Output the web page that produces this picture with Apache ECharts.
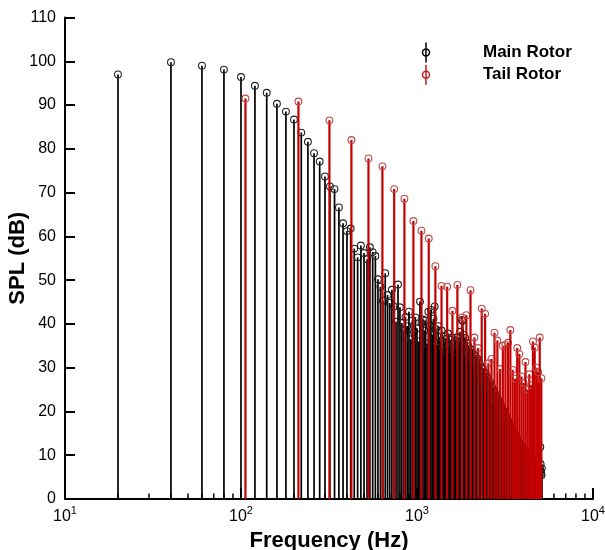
<!DOCTYPE html>
<html>
<head>
<meta charset="utf-8">
<script src="https://cdn.jsdelivr.net/npm/echarts@6/dist/echarts.min.js"></script>
<style>html,body{margin:0;padding:0;background:#fff}#c{width:605px;height:550px}</style>
</head>
<body>
<div id="c"></div>
<script>
// Main rotor harmonics: fundamental 20 Hz, SPL (dB) of harmonics 1..256
const mainFundamental = 20;
const mainSPL = [
97.0, 99.8, 99.0, 98.1, 96.4, 94.4, 92.8, 90.3, 88.5, 86.7,
83.7, 81.6, 79.0, 77.1, 73.7, 71.4, 70.8, 66.6, 63.0, 61.2,
61.8, 57.2, 55.2, 57.9, 56.2, 54.8, 57.5, 56.4, 55.5, 50.2,
48.5, 45.3, 51.6, 46.6, 44.8, 47.8, 44.0, 40.5, 49.0, 43.8,
40.2, 38.5, 41.6, 39.5, 42.8, 36.5, 40.8, 38.2, 41.5, 39.0,
36.0, 45.1, 40.2, 41.0, 38.5, 40.8, 35.5, 42.8, 39.6, 43.2,
37.5, 41.2, 44.0, 38.8, 35.2, 39.5, 37.0, 36.0, 38.5, 34.5,
37.2, 35.8, 36.6, 33.9, 37.8, 35.0, 36.4, 34.2, 36.9, 35.3,
34.0, 36.2, 35.5, 33.6, 37.0, 34.8, 35.9, 38.2, 36.1, 40.9,
40.7, 37.5, 35.2, 36.8, 34.1, 35.6, 33.8, 34.9, 32.7, 34.3,
33.5, 32.1, 34.0, 31.8, 33.2, 31.0, 32.6, 30.8, 31.5, 32.1,
30.4, 31.6, 29.2, 30.7, 28.9, 30.1, 28.4, 29.9, 27.6, 29.0,
28.1, 27.2, 28.6, 26.4, 27.9, 25.8, 27.1, 26.3, 25.2, 26.7,
24.9, 26.0, 24.1, 25.4, 23.7, 24.8, 23.2, 24.3, 22.6, 23.9,
23.4, 22.1, 23.0, 21.6, 22.7, 21.2, 22.2, 20.7, 21.8, 20.3,
21.1, 19.8, 20.6, 19.4, 20.2, 18.9, 19.7, 18.4, 19.3, 18.0,
18.8, 17.6, 18.3, 17.1, 17.9, 16.7, 17.4, 16.2, 17.0, 15.9,
16.6, 15.5, 16.1, 15.0, 15.8, 14.7, 15.3, 14.3, 15.0, 13.9,
14.6, 13.6, 14.2, 13.2, 13.9, 12.9, 13.5, 12.6, 13.2, 12.3,
12.9, 12.0, 12.6, 11.7, 12.3, 11.5, 12.0, 11.2, 11.8, 10.9,
11.5, 10.7, 11.3, 10.4, 11.0, 10.2, 10.8, 10.0, 10.6, 9.8,
10.4, 9.6, 10.2, 9.4, 10.0, 9.2, 9.8, 9.1, 9.6, 8.9,
9.4, 8.7, 9.2, 8.5, 9.0, 8.4, 8.8, 8.2, 8.7, 8.0,
8.5, 7.9, 8.3, 7.7, 8.2, 7.6, 8.0, 7.4, 7.9, 7.3,
7.7, 7.2, 7.6, 7.0, 7.4, 6.9, 7.3, 6.8, 7.1, 6.7,
11.9, 8.0, 6.3, 5.8, 5.4, 7.0
];
// Tail rotor harmonics: fundamental 106 Hz, SPL (dB) of harmonics 1..48
const tailFundamental = 106;
const tailSPL = [
91.5, 90.8, 86.5, 82.0, 77.8, 76.0, 70.8, 68.6, 63.5, 61.3,
59.5, 53.2, 48.7, 48.5, 43.0, 48.9, 41.5, 42.0, 47.7, 36.9,
34.5, 43.5, 42.3, 31.0, 32.0, 38.0, 36.2, 29.7, 35.0, 35.2,
35.7, 38.6, 29.5, 27.5, 34.5, 33.1, 28.0, 26.5, 31.3, 25.0,
28.5, 26.0, 36.0, 34.6, 30.0, 29.0, 36.9, 27.6
];
const seriesNames = ['Main Rotor', 'Tail Rotor'];
const xMin = 10, xMax = 10000;
const yMin = 0, yMax = 110, yStep = 10;
const minorTickValues = [20,30,40,50,60,70,80,90,200,300,400,500,600,700,800,900,2000,3000,4000,5000,6000,7000,8000,9000];

const mainData = mainSPL.map((v, i) => [(i + 1) * mainFundamental, v]);
const tailData = tailSPL.map((v, i) => [(i + 1) * tailFundamental, v]);

const FONT = 'Liberation Sans, Arial, Helvetica, sans-serif';

function stemRenderer(lineColor, circleColor, lw) {
  return function (params, api) {
    const p = api.coord([api.value(0), api.value(1)]);
    const b = api.coord([api.value(0), 0]);
    return {
      type: 'group',
      children: [
        { type: 'line', shape: { x1: p[0], y1: b[1], x2: p[0], y2: p[1] },
          style: { stroke: lineColor, lineWidth: lw } },
        { type: 'circle', shape: { cx: p[0], cy: p[1], r: 3.4 },
          style: { fill: 'none', stroke: circleColor, lineWidth: 1.1 } }
      ]
    };
  };
}

const chart = echarts.init(document.getElementById('c'), null, { renderer: 'canvas' });
const iconPath = 'path://M4,0L4,20M7.5,10A3.5,3.5,0,1,1,0.5,10A3.5,3.5,0,1,1,7.5,10';
chart.setOption({
  animation: false,
  backgroundColor: '#fff',
  grid: { left: 65, right: 12, top: 17.5, bottom: 51, containLabel: false, outerBoundsMode: 'none' },
  legend: {
    orient: 'vertical',
    left: 420, top: 40, padding: 0,
    itemWidth: 8, itemHeight: 20, itemGap: -2.8,
    textStyle: { fontFamily: FONT, fontSize: 17, lineHeight: 20, fontWeight: 'bold', color: '#000', padding: [0, 0, 0, 48] },
    data: [
      { name: seriesNames[0], icon: iconPath, itemStyle: { color: 'none', borderColor: '#000', borderWidth: 1.5 } },
      { name: seriesNames[1], icon: iconPath, itemStyle: { color: 'none', borderColor: '#c02020', borderWidth: 1.5 } }
    ]
  },
  xAxis: {
    type: 'log', logBase: 10, min: xMin, max: xMax,
    name: 'Frequency (Hz)', nameLocation: 'middle', nameGap: 27,
    nameTextStyle: { fontFamily: FONT, fontSize: 22, fontWeight: 'bold', color: '#000' },
    axisLine: { lineStyle: { color: '#000', width: 2 } },
    axisTick: { inside: true, length: 11, lineStyle: { color: '#000', width: 2 } },
    splitLine: { show: false },
    axisLabel: {
      margin: 6,
      formatter: function (v) {
        const e = Math.round(Math.log10(v));
        return '{b|10}{s|' + e + '}';
      },
      rich: {
        b: { fontFamily: FONT, fontSize: 16, color: '#000', lineHeight: 20, verticalAlign: 'bottom' },
        s: { fontFamily: FONT, fontSize: 11, color: '#000', lineHeight: 20, verticalAlign: 'top' }
      }
    }
  },
  yAxis: {
    type: 'value', min: yMin, max: yMax, interval: yStep,
    name: 'SPL (dB)', nameLocation: 'middle', nameGap: 36, nameMoveOverlap: false,
    nameTextStyle: { fontFamily: FONT, fontSize: 22, fontWeight: 'bold', color: '#000' },
    axisLine: { show: true, lineStyle: { color: '#000', width: 2 } },
    axisTick: { show: true, inside: true, length: 10, lineStyle: { color: '#000', width: 2 } },
    splitLine: { show: false },
    axisLabel: { margin: 9, fontFamily: FONT, fontSize: 16, color: '#000' }
  },
  series: [
    {
      name: seriesNames[0], type: 'custom', clip: true,
      renderItem: stemRenderer('#000', '#222', 1.7),
      encode: { x: 0, y: 1 },
      data: mainData, z: 2
    },
    {
      name: seriesNames[1], type: 'custom', clip: true,
      renderItem: stemRenderer('#c40000', '#c04848', 2.2),
      encode: { x: 0, y: 1 },
      data: tailData, z: 3
    },
    {
      name: 'minorTicks', type: 'custom', silent: true,
      renderItem: function (params, api) {
        const b = api.coord([api.value(0), 0]);
        return { type: 'line', shape: { x1: b[0], y1: b[1], x2: b[0], y2: b[1] - 5.5 },
          style: { stroke: '#000', lineWidth: 1.5 } };
      },
      encode: { x: 0, y: 1 },
      data: minorTickValues.map(v => [v, 0]), z: 1
    }
  ]
});
</script>
</body>
</html>
